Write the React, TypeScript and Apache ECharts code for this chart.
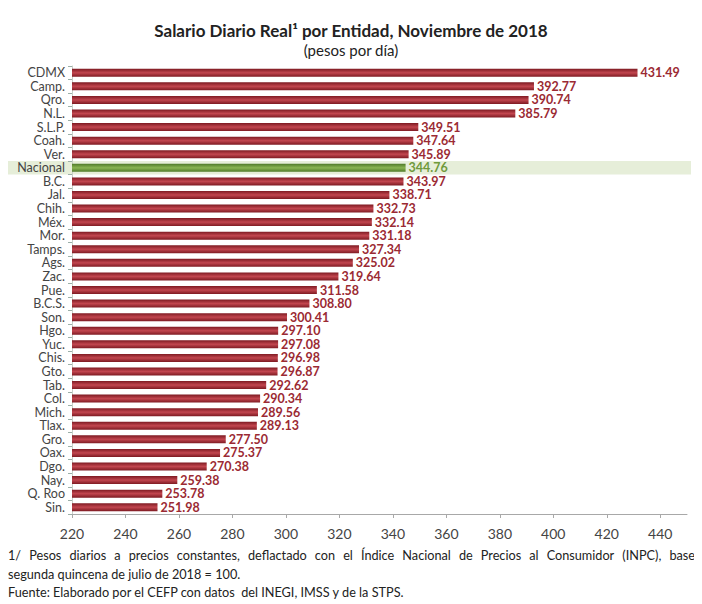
import React, { useEffect, useRef } from "react";
import * as echarts from "echarts";

const categories = [
  "CDMX", "Camp.", "Qro.", "N.L.", "S.L.P.", "Coah.", "Ver.", "Nacional", "B.C.", "Jal.",
  "Chih.", "Méx.", "Mor.", "Tamps.", "Ags.", "Zac.", "Pue.", "B.C.S.", "Son.", "Hgo.",
  "Yuc.", "Chis.", "Gto.", "Tab.", "Col.", "Mich.", "Tlax.", "Gro.", "Oax.", "Dgo.",
  "Nay.", "Q. Roo", "Sin.",
];
const values = [
  431.49, 392.77, 390.74, 385.79, 349.51, 347.64, 345.89, 344.76, 343.97, 338.71,
  332.73, 332.14, 331.18, 327.34, 325.02, 319.64, 311.58, 308.8, 300.41, 297.1,
  297.08, 296.98, 296.87, 292.62, 290.34, 289.56, 289.13, 277.5, 275.37, 270.38,
  259.38, 253.78, 251.98,
];
const highlight = "Nacional";
const axisMin = 220;
const axisMax = 450;
const axisInterval = 20;

const titleText = "Salario Diario Real¹ por Entidad, Noviembre de 2018";
const subtitleText = "(pesos por día)";
const notes = [
  "1/ Pesos diarios a precios constantes, deflactado con el Índice Nacional de Precios al Consumidor (INPC), base",
  "segunda quincena de julio de 2018 = 100.",
  "Fuente: Elaborado por el CEFP con datos  del INEGI, IMSS y de la STPS.",
];

const FONT = "Lato, 'Open Sans', sans-serif";
const NOTE_SIZE = 12.7;

export default function App() {
  const ref = useRef<HTMLDivElement>(null);
  useEffect(() => {
    if (!ref.current) return;
    const chart = echarts.init(ref.current, null, { renderer: "svg" });
    const redGrad = new echarts.graphic.LinearGradient(0, 0, 0, 1, [
      { offset: 0, color: "#7e1a22" },
      { offset: 0.5, color: "#c2464f" },
      { offset: 1, color: "#7e1a22" },
    ]);
    const greenGrad = new echarts.graphic.LinearGradient(0, 0, 0, 1, [
      { offset: 0, color: "#4f7a2a" },
      { offset: 0.5, color: "#8ab552" },
      { offset: 1, color: "#4f7a2a" },
    ]);
    const data = values.map((v, i) => {
      const isH = categories[i] === highlight;
      return {
        value: v,
        itemStyle: { color: isH ? greenGrad : redGrad },
        label: { color: isH ? "#6f9a3c" : "#9b2a33" },
      };
    });
    const baseOption: any = {
      animation: false,
      backgroundColor: "#ffffff",
      grid: { left: 64, right: 7, top: 58, bottom: 90, containLabel: false },
      title: [
        {
          text: titleText,
          left: "center",
          top: 9,
          textStyle: { fontFamily: FONT, fontSize: 17, fontWeight: "bold", color: "#222" },
        },
        {
          text: subtitleText,
          left: "center",
          top: 29,
          textStyle: { fontFamily: FONT, fontSize: 15, fontWeight: "normal", color: "#222" },
        },
      ],
      xAxis: {
        type: "value",
        min: axisMin,
        max: axisMax,
        interval: axisInterval,
        splitLine: { show: false },
        axisLine: { show: true, lineStyle: { color: "#a8a8a8" } },
        axisTick: { show: true, length: 4, lineStyle: { color: "#a8a8a8" } },
        axisLabel: {
          showMaxLabel: false,
          fontFamily: FONT,
          fontSize: 14,
          color: "#444",
          margin: 12,
        },
      },
      yAxis: {
        type: "category",
        inverse: true,
        data: categories,
        axisLine: { show: true, lineStyle: { color: "#c8d0c8" } },
        axisTick: { show: true, length: 4, interval: 0, lineStyle: { color: "#9cb0a8" } },
        axisLabel: { interval: 0, fontFamily: FONT, fontSize: 12.5, lineHeight: 13, color: "#444", margin: 7 },
      },
      series: [
        {
          type: "bar",
          data,
          barWidth: 8,
          label: {
            show: true,
            position: "right",
            distance: 3,
            fontFamily: FONT,
            fontSize: 12.5,
            lineHeight: 13,
            fontWeight: "bold",
            formatter: (p: any) => Number(p.value).toFixed(2),
          },
        },
      ],
    };
    chart.setOption(baseOption);
    const cy = chart.convertToPixel({ yAxisIndex: 0 }, highlight) as number;
    const step =
      (chart.convertToPixel({ yAxisIndex: 0 }, categories[1]) as number) -
      (chart.convertToPixel({ yAxisIndex: 0 }, categories[0]) as number);

    // justify first footnote line across the width, as in the reference
    const measure = (t: string) =>
      new (echarts.graphic as any).Text({
        style: { text: t, fontFamily: FONT, fontSize: NOTE_SIZE },
      }).getBoundingRect().width as number;
    const lineLeft = 0;
    const lineRight = 687;
    const words = notes[0].split(" ");
    const widths = words.map(measure);
    const totalW = widths.reduce((a, b) => a + b, 0);
    const gap = (lineRight - lineLeft - totalW) / (words.length - 1);
    let xx = lineLeft;
    const justified: any[] = words.map((w, i) => {
      const last = i === words.length - 1;
      const el = {
        type: "text",
        x: last ? lineRight : xx,
        y: 540,
        style: {
          text: w,
          fontFamily: FONT,
          fontSize: NOTE_SIZE,
          fill: "#222",
          align: last ? "right" : "left",
        },
      };
      xx += widths[i] + gap;
      return el;
    });

    chart.setOption({
      graphic: [
        {
          type: "rect",
          z: -10,
          silent: true,
          shape: { x: -3, y: cy - step / 2, width: 686, height: step },
          style: { fill: "#e6eed9" },
        },
        ...justified,
        ...notes.slice(1).map((t, i) => ({
          type: "text",
          x: 0,
          y: 559 + i * 18.5,
          style: { text: t, fontFamily: FONT, fontSize: NOTE_SIZE, fill: "#222" },
        })),
      ],
    });
    return () => chart.dispose();
  }, []);
  return <div ref={ref} style={{ width: 686, height: 596 }} />;
}
